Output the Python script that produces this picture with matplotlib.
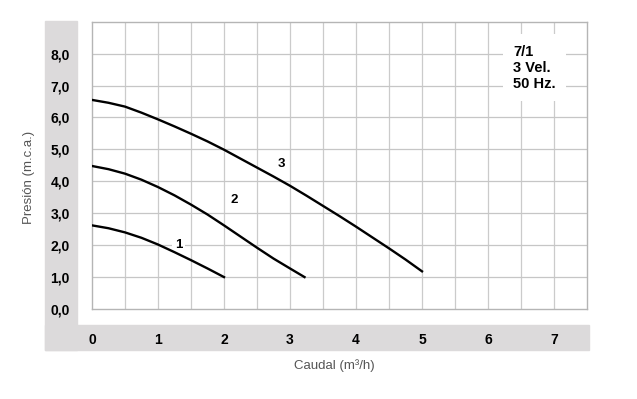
import matplotlib
matplotlib.use("Agg")
import matplotlib.pyplot as plt
from matplotlib.patches import Rectangle

plt.rcParams["font.family"] = ["Liberation Sans", "DejaVu Sans"]

# Curvas de la bomba (caudal m3/h, presion m.c.a.)
caudal_1 = [0, 0.25, 0.5, 0.75, 1.0, 1.25, 1.5, 1.75, 2.0]
presion_1 = [2.62, 2.53, 2.40, 2.23, 2.02, 1.78, 1.53, 1.27, 1.0]

caudal_2 = [0, 0.25, 0.5, 0.75, 1.0, 1.25, 1.5, 1.75, 2.0, 2.25, 2.5, 2.75, 3.0, 3.22]
presion_2 = [4.48, 4.38, 4.24, 4.05, 3.82, 3.56, 3.27, 2.96, 2.62, 2.27, 1.92, 1.58, 1.27, 1.0]

caudal_3 = [0, 0.25, 0.5, 0.75, 1.0, 1.25, 1.5, 1.75, 2.0, 2.25, 2.5,
            2.75, 3.0, 3.25, 3.5, 3.75, 4.0, 4.25, 4.5, 4.75, 5.0]
presion_3 = [6.55, 6.46, 6.34, 6.15, 5.94, 5.72, 5.49, 5.25, 4.99, 4.71, 4.43,
             4.15, 3.86, 3.55, 3.23, 2.91, 2.58, 2.24, 1.9, 1.55, 1.18]

curve_labels = ["1", "2", "3"]
label_pos = [(1.31, 2.0), (2.15, 3.41), (2.87, 4.55)]

info_text = "7/1\n3 Vel.\n50 Hz."

x_ticks = [0, 1, 2, 3, 4, 5, 6, 7]
y_ticks = [0, 1, 2, 3, 4, 5, 6, 7, 8]
y_tick_labels = ["0,0", "1,0", "2,0", "3,0", "4,0", "5,0", "6,0", "7,0", "8,0"]

W, H = 637, 399
fig = plt.figure(figsize=(W / 100, H / 100), dpi=100)


def fx(px):
    return px / W


def fy(py):
    return 1 - py / H


band = "#dcdadb"
# gray L band behind the tick labels
fig.patches.append(Rectangle((fx(45), fy(350)), fx(77) - fx(45), fy(21) - fy(350),
                             transform=fig.transFigure, color=band, zorder=-1))
fig.patches.append(Rectangle((fx(45), fy(350)), fx(589) - fx(45), fy(325) - fy(350),
                             transform=fig.transFigure, color=band, zorder=-1))

ax = fig.add_axes([fx(92), fy(309), fx(587) - fx(92), fy(21.7) - fy(309)])
ax.set_xlim(0, 7.5)
ax.set_ylim(0, 9)

# grid
for gx in [i * 0.5 for i in range(1, 15)]:
    ax.axvline(gx, color="#cbcbcb", lw=0.9, zorder=1)
for gy in range(1, 9):
    ax.axhline(gy, color="#c6c6c6", lw=0.9, zorder=1)

for spine in ax.spines.values():
    spine.set_color("#b5b5b5")
    spine.set_linewidth(1.0)

ax.plot(caudal_1, presion_1, color="black", lw=1.7, zorder=3)
ax.plot(caudal_2, presion_2, color="black", lw=1.7, zorder=3)
ax.plot(caudal_3, presion_3, color="black", lw=1.7, zorder=3)

for lab, (lx, ly) in zip(curve_labels, label_pos):
    ax.text(lx, ly, lab, fontsize=9.5, fontweight="bold", ha="center", va="center",
            zorder=2.5, bbox=dict(facecolor="white", edgecolor="none", pad=2))

# info box: white patch hides the grid behind the text
ax.add_patch(Rectangle((6.23, 6.53), 0.95, 2.07, facecolor="white",
                       edgecolor="none", zorder=2))
ax.text(6.38, 7.55, info_text, fontsize=10.5, fontweight="bold",
        ha="left", va="center", linespacing=1.2, zorder=4)

ax.set_xticks(x_ticks)
ax.set_xticklabels([str(v) for v in x_ticks], fontsize=10, fontweight="bold")
ax.set_yticks(y_ticks)
ax.set_yticklabels(y_tick_labels, fontsize=10, fontweight="bold")
ax.tick_params(axis="x", length=0, pad=17)
ax.tick_params(axis="y", length=0, pad=16)

fig.text(fx(334), fy(366), "Caudal (m³/h)", fontsize=9.5, color="#555555",
         ha="center", va="center")
fig.text(fx(29), fy(177), "Presión (m.c.a.)", fontsize=9.5, color="#555555",
         ha="center", va="center", rotation=90)

fig.savefig("out.png", dpi=100)
